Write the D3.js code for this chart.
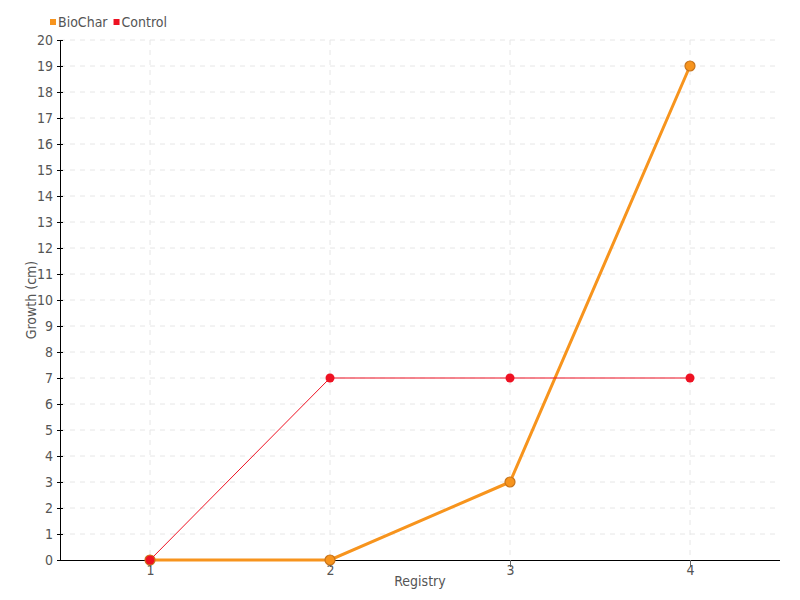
<!DOCTYPE html>
<html><head><meta charset="utf-8">
<script src="https://cdn.jsdelivr.net/npm/d3@7"></script>
<style>
body{margin:0;background:#fff;}
text{font-family:"DejaVu Sans Condensed","DejaVu Sans",sans-serif;font-stretch:condensed;font-weight:300;fill:#555;}
</style></head><body>
<svg id="c" width="800" height="600"></svg>
<script>
const categories = ["1","2","3","4"];
const bioChar = [0, 0, 3, 19];
const control = [0, 7, 7, 7];
const seriesNames = ["BioChar","Control"];
const seriesColors = ["#f7941d","#ee1122"];
const yTicks = d3.range(0, 21);

const svg = d3.select("#c");
const m = {l:60, r:20, t:40, b:40};
const W = 800, H = 600;
const x = d3.scalePoint().domain(categories).range([m.l, W - m.r]).padding(0.5);
const y = d3.scaleLinear().domain([0, 20]).range([H - m.b, m.t]);

// grid
const g = svg.append("g");
g.selectAll(".hg").data(yTicks.filter(d=>d>0)).enter().append("line")
  .attr("x1", m.l).attr("x2", W - m.r).attr("y1", d=>y(d)).attr("y2", d=>y(d))
  .attr("stroke", "#e6e6e6").attr("stroke-dasharray", "5,5");
g.selectAll(".vg").data(categories).enter().append("line")
  .attr("x1", d=>x(d)).attr("x2", d=>x(d)).attr("y1", m.t).attr("y2", H - m.b)
  .attr("stroke", "#e6e6e6").attr("stroke-dasharray", "5,5");

// axes
const ya = svg.append("g").attr("transform", `translate(${m.l},0)`)
  .call(d3.axisLeft(y).tickValues(yTicks).tickFormat(d3.format("d")).tickSize(3).tickPadding(4));
ya.select(".domain").attr("stroke", "#000");
ya.selectAll(".tick line").attr("stroke", "#000").attr("x2", 3).attr("x1", -3);
ya.selectAll("text").style("font-size", "14px").attr("fill", "#555");

const xa = svg.append("g").attr("transform", `translate(0,${H - m.b})`)
  .call(d3.axisBottom(x).tickSize(7).tickSizeOuter(0).tickPadding(-2));
xa.select(".domain").attr("stroke", "#000").attr("d", `M${m.l},0.5H${W - m.r}`);
xa.selectAll(".tick line").attr("stroke", "#666");
xa.selectAll("text").style("font-size", "14px").attr("fill", "#555");

svg.append("text").attr("x", (m.l + W - m.r) / 2).attr("y", 586)
  .attr("text-anchor", "middle").style("font-size", "14px").text("Registry");
svg.append("text").attr("transform", `translate(36,${(m.t + H - m.b) / 2}) rotate(-90)`)
  .attr("text-anchor", "middle").style("font-size", "14px").text("Growth (cm)");

// lines
const line = d3.line().x((d,i)=>x(categories[i])).y(d=>y(d));
svg.append("path").datum(bioChar).attr("d", line).attr("fill", "none")
  .attr("stroke", seriesColors[0]).attr("stroke-width", 3);
svg.selectAll(".bp").data(bioChar).enter().append("circle")
  .attr("cx", (d,i)=>x(categories[i])).attr("cy", d=>y(d)).attr("r", 5)
  .attr("fill", seriesColors[0]).attr("stroke", "#c8741a").attr("stroke-width", 1.2);
svg.append("path").datum(control).attr("d", line).attr("fill", "none")
  .attr("stroke", seriesColors[1]).attr("stroke-width", 1);
svg.selectAll(".cp").data(control).enter().append("circle")
  .attr("cx", (d,i)=>x(categories[i])).attr("cy", d=>y(d)).attr("r", 4.5)
  .attr("fill", seriesColors[1]);

// legend
const lg = svg.append("g").attr("transform", "translate(50,22)");
let lx = 0;
seriesNames.forEach((n,i)=>{
  lg.append("rect").attr("x", lx).attr("y", -3).attr("width", 6).attr("height", 6).attr("fill", seriesColors[i]);
  const t = lg.append("text").attr("x", lx + 8).attr("y", 0).attr("dy", "0.35em")
    .style("font-size", "14px").text(n);
  lx += 8 + t.node().getComputedTextLength() + 6;
});
</script></body></html>
